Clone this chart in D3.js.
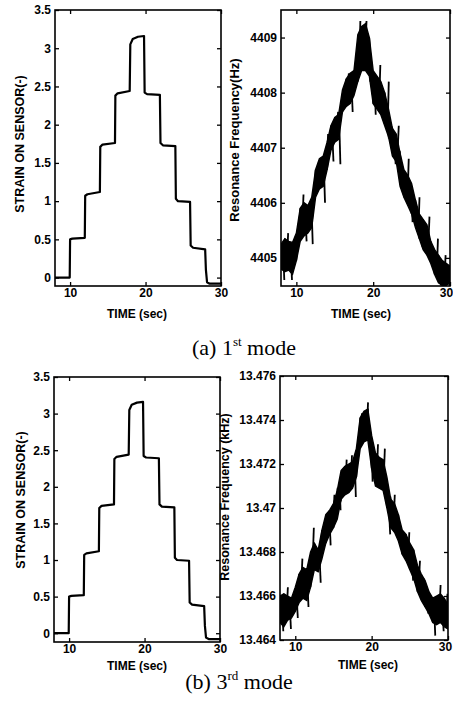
<!DOCTYPE html>
<html><head><meta charset="utf-8">
<script src="https://cdn.jsdelivr.net/npm/d3@7"></script>
<style>
body{margin:0;background:#fff}
svg{display:block}
.ax text{font-family:Arial,"Liberation Sans",sans-serif;font-weight:bold;font-size:12px;fill:#000}
.lab{font-family:Arial,"Liberation Sans",sans-serif;font-weight:bold;font-size:12px;fill:#000}
.cap{font-family:"Times New Roman","Liberation Serif",serif;font-size:22px;fill:#000}
</style>
</head><body>
<svg id="c" width="453" height="702"></svg>
<script>
// ---- data ----
const strainTime  = [8, 9.95, 10.0, 10.3, 11.95, 12.0, 12.3, 13.95, 14.0, 14.3, 15.95, 16.0, 16.3, 17.9, 17.98, 18.3, 19.0, 19.8, 19.88, 20.2, 21.9, 21.98, 22.3, 23.95, 24.02, 24.3, 25.9, 25.98, 26.3, 27.9, 28.0, 28.15, 28.5, 30];
const strainValue = [0, 0, 0.5, 0.51, 0.52, 1.07, 1.09, 1.12, 1.71, 1.74, 1.76, 2.38, 2.41, 2.44, 3.05, 3.12, 3.15, 3.16, 2.42, 2.40, 2.39, 1.76, 1.73, 1.72, 1.03, 1.00, 0.99, 0.42, 0.39, 0.37, 0.10, -0.06, -0.08, -0.08];

const freqTime = [8, 8.5, 9, 9.5, 10, 10.5, 11, 11.5, 12, 12.5, 13, 13.5, 14, 14.5, 15, 15.5, 16, 16.5, 17, 17.5, 18, 18.5, 19, 19.5, 20, 20.5, 21, 21.5, 22, 22.5, 23, 23.5, 24, 24.5, 25, 25.5, 26, 26.5, 27, 27.5, 28, 28.5, 29, 29.5, 30];

// 1st mode resonance frequency (Hz): lower / upper edge of the noisy trace
const freq1Lo = [4404.80, 4404.75, 4404.78, 4404.70, 4404.95, 4405.30, 4405.40, 4405.45, 4405.55, 4406.10, 4406.25, 4406.30, 4406.60, 4406.95, 4407.10, 4407.15, 4407.65, 4407.75, 4407.80, 4407.95, 4408.20, 4408.40, 4408.40, 4408.30, 4407.80, 4407.70, 4407.60, 4407.40, 4407.20, 4406.85, 4406.75, 4406.30, 4406.10, 4405.95, 4405.80, 4405.55, 4405.35, 4405.15, 4405.05, 4404.90, 4404.70, 4404.55, 4404.50, 4404.50, 4404.55];
const freq1Hi = [4405.25, 4405.35, 4405.30, 4405.28, 4405.45, 4405.90, 4406.00, 4405.95, 4406.10, 4406.60, 4406.80, 4406.85, 4407.10, 4407.40, 4407.55, 4407.60, 4408.05, 4408.25, 4408.35, 4408.40, 4409.05, 4409.20, 4409.25, 4409.00, 4408.40, 4408.30, 4408.20, 4408.00, 4407.70, 4407.35, 4407.25, 4406.90, 4406.60, 4406.50, 4406.35, 4406.05, 4405.80, 4405.70, 4405.60, 4405.30, 4405.15, 4405.05, 4404.95, 4404.90, 4404.85];
const freq1SpikeTime  = [8.3, 8.8, 9.3, 9.8, 10.8, 11.2, 12.0, 12.8, 13.6, 14.0, 14.7, 15.3, 15.6, 16.7, 17.2, 17.5, 18.2, 19.0, 19.5, 20.2, 20.8, 21.4, 21.9, 22.8, 23.2, 23.7, 24.5, 25.0, 25.9, 26.3, 27.2, 27.8, 28.3, 28.7, 29.3, 29.8];
const freq1SpikeValue = [4404.6, 4405.45, 4404.6, 4405.4, 4406.15, 4405.3, 4405.25, 4406.75, 4406.0, 4407.25, 4406.75, 4407.65, 4406.7, 4408.35, 4407.65, 4408.45, 4409.3, 4409.3, 4408.2, 4407.6, 4408.5, 4407.5, 4408.2, 4406.7, 4407.4, 4406.3, 4406.8, 4405.65, 4406.1, 4405.2, 4405.75, 4404.8, 4405.35, 4404.5, 4405.05, 4404.5];

// 3rd mode resonance frequency (kHz)
const freq3Lo = [13.4648, 13.4646, 13.4649, 13.4650, 13.4653, 13.4657, 13.4659, 13.4658, 13.4664, 13.4672, 13.4671, 13.4677, 13.4684, 13.4688, 13.4691, 13.4695, 13.4704, 13.4706, 13.4707, 13.4709, 13.4714, 13.4727, 13.4730, 13.4731, 13.4718, 13.4710, 13.4709, 13.4708, 13.4700, 13.4691, 13.4689, 13.4685, 13.4679, 13.4676, 13.4672, 13.4668, 13.4662, 13.4658, 13.4655, 13.4652, 13.4648, 13.4647, 13.4648, 13.4646, 13.4645];
const freq3Hi = [13.4660, 13.4661, 13.4660, 13.4659, 13.4664, 13.4670, 13.4673, 13.4672, 13.4680, 13.4684, 13.4681, 13.4690, 13.4697, 13.4699, 13.4702, 13.4708, 13.4717, 13.4719, 13.4720, 13.4721, 13.4727, 13.4741, 13.4744, 13.4745, 13.4733, 13.4725, 13.4723, 13.4722, 13.4714, 13.4704, 13.4702, 13.4697, 13.4690, 13.4688, 13.4684, 13.4681, 13.4674, 13.4670, 13.4667, 13.4662, 13.4659, 13.4660, 13.4661, 13.4659, 13.4656];
const freq3SpikeTime  = [8.3, 8.9, 9.3, 10.2, 10.8, 11.6, 12.3, 13.2, 13.8, 14.5, 15.0, 15.8, 16.6, 17.3, 17.8, 18.6, 19.4, 20.0, 20.7, 21.6, 22.3, 22.9, 23.6, 24.8, 25.3, 26.2, 26.7, 27.3, 28.2, 28.9, 29.3, 29.8];
const freq3SpikeValue = [13.4644, 13.4664, 13.4645, 13.4650, 13.4677, 13.4655, 13.4691, 13.4666, 13.4694, 13.4683, 13.4706, 13.4699, 13.4722, 13.4724, 13.4705, 13.4743, 13.4748, 13.4712, 13.4729, 13.4727, 13.4688, 13.4706, 13.4683, 13.4689, 13.4667, 13.4676, 13.4668, 13.4652, 13.4642, 13.4665, 13.4644, 13.4661];

const timeTicks = [10, 20, 30];
const timeTickLabels = ["10", "20", "30"];
const strainTicks = [0, 0.5, 1, 1.5, 2, 2.5, 3, 3.5];
const strainTickLabels = ["0", "0.5", "1", "1.5", "2", "2.5", "3", "3.5"];
const freq1Ticks = [4405, 4406, 4407, 4408, 4409];
const freq1TickLabels = ["4405", "4406", "4407", "4408", "4409"];
const freq3Ticks = [13.464, 13.466, 13.468, 13.470, 13.472, 13.474, 13.476];
const freq3TickLabels = ["13.464", "13.466", "13.468", "13.47", "13.472", "13.474", "13.476"];

// ---- drawing ----
const svg = d3.select("#c");
let clipId = 0;

function panel(o) {
  const x = d3.scaleLinear().domain([8, 30]).range([o.x0, o.x1]);
  const y = d3.scaleLinear().domain(o.yDomain).range([o.y1, o.y0]);
  const g = svg.append("g");
  const id = "clip" + (clipId++);
  g.append("clipPath").attr("id", id).append("rect")
    .attr("x", o.x0).attr("y", o.y0).attr("width", o.x1 - o.x0).attr("height", o.y1 - o.y0);
  const plot = g.append("g").attr("clip-path", "url(#" + id + ")");
  o.draw(plot, x, y);

  const fmt = (ticks, labels) => d => labels[ticks.indexOf(d)];
  const tk = 4;
  g.append("g").attr("class", "ax").attr("transform", `translate(${o.x0},0)`)
    .call(d3.axisLeft(y).tickValues(o.yTicks).tickFormat(fmt(o.yTicks, o.yLabels)).tickSize(-tk).tickPadding(4).tickSizeOuter(0));
  g.append("g").attr("class", "ax").attr("transform", `translate(${o.x1},0)`)
    .call(d3.axisRight(y).tickValues(o.yTicks).tickFormat("").tickSize(-tk).tickSizeOuter(0));
  const xb = g.append("g").attr("class", "ax").attr("transform", `translate(0,${o.y1})`)
    .call(d3.axisBottom(x).tickValues(timeTicks).tickFormat(fmt(timeTicks, timeTickLabels)).tickSize(-tk).tickPadding(2).tickSizeOuter(0));
  if (o.lastShift) xb.selectAll(".tick text").filter(d => d === 30).attr("dx", o.lastShift);
  g.append("g").attr("class", "ax").attr("transform", `translate(0,${o.y0})`)
    .call(d3.axisTop(x).tickValues(timeTicks).tickFormat("").tickSize(-tk).tickSizeOuter(0));
  g.selectAll(".ax .domain").remove();
  g.selectAll(".ax line").attr("stroke", "#000").attr("stroke-width", 1.3);

  g.append("rect").attr("x", o.x0).attr("y", o.y0).attr("width", o.x1 - o.x0).attr("height", o.y1 - o.y0)
    .attr("fill", "none").attr("stroke", "#000").attr("stroke-width", 1.6);

  g.append("text").attr("class", "lab").attr("text-anchor", "middle")
    .attr("x", o.xLabelPos[0]).attr("y", o.xLabelPos[1]).text("TIME (sec)");
  g.append("text").attr("class", "lab").attr("text-anchor", "middle").style("font-size", o.yLabelSize + "px")
    .attr("transform", `translate(${o.yLabelPos[0]},${o.yLabelPos[1]}) rotate(-90)`).text(o.yLabel);
}

function drawStrain(plot, x, y) {
  const pts = strainTime.map((t, i) => [t, strainValue[i]]);
  plot.append("path").datum(pts)
    .attr("d", d3.line().x(d => x(d[0])).y(d => y(d[1])).curve(d3.curveLinear))
    .attr("fill", "none").attr("stroke", "#000").attr("stroke-width", 2.2).attr("stroke-linejoin", "round");
}

function drawFreq(lo, hi, sT, sV) {
  return function(plot, x, y) {
    const pts = freqTime.map((t, i) => ({t, lo: lo[i], hi: hi[i]}));
    plot.append("path").datum(pts)
      .attr("d", d3.area().x(d => x(d.t)).y0(d => y(d.lo)).y1(d => y(d.hi)))
      .attr("fill", "#000").attr("stroke", "#000").attr("stroke-width", 1.4);
    const zz = [];
    pts.forEach((d, i) => { zz.push([d.t, i % 2 ? d.hi : d.lo]); });
    plot.append("path").datum(zz)
      .attr("d", d3.line().x(d => x(d[0])).y(d => y(d[1])))
      .attr("fill", "none").attr("stroke", "#000").attr("stroke-width", 1.5);
    sT.forEach((t, k) => {
      let i = 0, best = 1e9;
      freqTime.forEach((ft, j) => { if (Math.abs(ft - t) < best) { best = Math.abs(ft - t); i = j; } });
      const mid = (lo[i] + hi[i]) / 2;
      plot.append("line").attr("x1", x(t)).attr("x2", x(t) + 1).attr("y1", y(mid)).attr("y2", y(sV[k]))
        .attr("stroke", "#000").attr("stroke-width", 1.8);
    });
  };
}

panel({x0: 55, x1: 221, y0: 10, y1: 286, yDomain: [-0.11, 3.5], yTicks: strainTicks, yLabels: strainTickLabels,
  yLabel: "STRAIN ON SENSOR(-)", yLabelSize: 12.5, xLabelPos: [137, 318], yLabelPos: [24, 144], draw: drawStrain});
panel({x0: 281, x1: 450, y0: 10, y1: 286, yDomain: [4404.49, 4409.5], yTicks: freq1Ticks, yLabels: freq1TickLabels,
  yLabel: "Resonance Frequency(Hz)", yLabelSize: 13, xLabelPos: [361, 318], yLabelPos: [239, 140], lastShift: -4,
  draw: drawFreq(freq1Lo, freq1Hi, freq1SpikeTime, freq1SpikeValue)});
panel({x0: 54, x1: 220, y0: 377, y1: 642, yDomain: [-0.12, 3.5], yTicks: strainTicks, yLabels: strainTickLabels,
  yLabel: "STRAIN ON SENSOR(-)", yLabelSize: 12.5, xLabelPos: [137, 670], yLabelPos: [25, 500], draw: drawStrain});
panel({x0: 280, x1: 448, y0: 376, y1: 640, yDomain: [13.464, 13.476], yTicks: freq3Ticks, yLabels: freq3TickLabels,
  yLabel: "Resonance Frequency (kHz)", yLabelSize: 12.5, xLabelPos: [368, 669], yLabelPos: [229, 497], lastShift: -3,
  draw: drawFreq(freq3Lo, freq3Hi, freq3SpikeTime, freq3SpikeValue)});

function caption(cx, cy, a, n, sup) {
  const t = svg.append("text").attr("class", "cap").attr("x", cx).attr("y", cy).attr("text-anchor", "middle");
  t.append("tspan").text(a + " " + n);
  t.append("tspan").attr("dy", -9).attr("font-size", 13).text(sup);
  t.append("tspan").attr("dy", 9).text(" mode");
}
caption(244, 355, "(a)", "1", "st");
caption(239, 689, "(b)", "3", "rd");
</script>
</body></html>
